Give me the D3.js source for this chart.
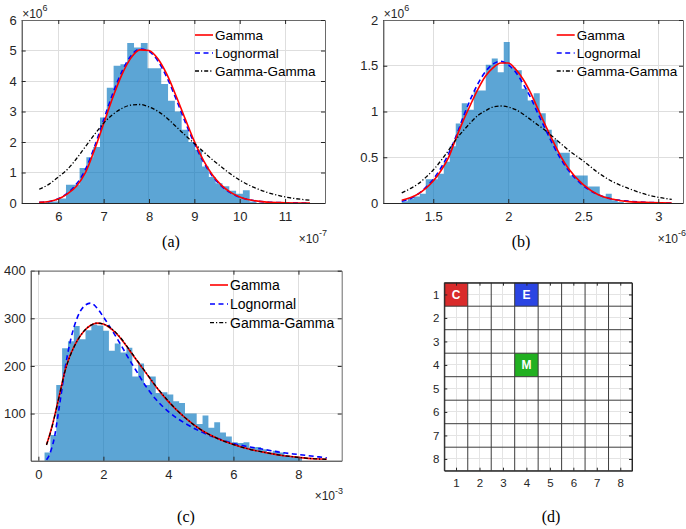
<!DOCTYPE html>
<html lang="en">
  <head>
    <meta charset="utf-8" />
    <script src="https://d3js.org/d3.v7.min.js"></script>
    <style>
      body { margin: 0; background: #fff; }
      svg text { font-family: "Liberation Sans", Arial, sans-serif; }
    </style>
  </head>
  <body>
    <svg width="686" height="529"></svg>
    <script>
      // ---------- (a) values in 1e-7 (x) and 1e6 (y) ----------
      const binStartA = 5.72, binWidthA = 0.15;
      const histA = [0.03, 0.05, 0.15, 0.6, 0.6, 1.15, 1.5, 1.84, 2.8, 3.78, 4.5, 4.55,
        5.25, 5.1, 5.25, 4.42, 4.42, 3.9, 3.35, 3.0, 2.4, 2.0, 1.75, 1.2, 0.85, 0.65,
        0.55, 0.4, 0.3, 0.42, 0.05];
      const fitXA = [5.58, 5.8, 6.0, 6.2, 6.4, 6.6, 6.8, 7.0, 7.2, 7.4, 7.6, 7.8, 8.0, 8.2,
        8.4, 8.6, 8.8, 9.0, 9.2, 9.4, 9.6, 9.8, 10.0, 10.3, 10.6, 11.0, 11.55];
      const gammaA = [0.02, 0.05, 0.13, 0.3, 0.55, 1.0, 1.75, 2.6, 3.45, 4.2, 4.75, 5.02, 5.0,
        4.72, 4.2, 3.5, 2.75, 2.02, 1.4, 0.92, 0.58, 0.35, 0.2, 0.08, 0.03, 0.01, 0.0];
      const lognA = [0.02, 0.05, 0.14, 0.32, 0.62, 1.1, 1.85, 2.72, 3.58, 4.3, 4.82, 5.05, 4.97,
        4.65, 4.1, 3.4, 2.65, 1.95, 1.35, 0.88, 0.55, 0.33, 0.19, 0.08, 0.03, 0.01, 0.0];
      const ggA = [0.45, 0.62, 0.85, 1.1, 1.45, 1.85, 2.25, 2.62, 2.9, 3.1, 3.21, 3.23, 3.15,
        3.0, 2.78, 2.5, 2.22, 1.95, 1.68, 1.42, 1.18, 0.95, 0.75, 0.52, 0.35, 0.2, 0.09];
      const xTicksA = [6, 7, 8, 9, 10, 11];
      const yTicksA = [0, 1, 2, 3, 4, 5, 6];

      // ---------- (b) values in 1e-6 (x) and 1e6 (y) ----------
      const binStartB = 1.29, binWidthB = 0.04;
      const histB = [0.02, 0.05, 0.07, 0.1, 0.26, 0.26, 0.32, 0.45, 0.62, 0.87, 1.09, 1.02,
        1.23, 1.23, 1.51, 1.58, 1.43, 1.76, 1.48, 1.45, 1.25, 1.12, 1.2, 0.98, 0.8, 0.69,
        0.55, 0.55, 0.3, 0.3, 0.3, 0.18, 0.18, 0.07, 0.1, 0.03, 0.01];
      const fitXB = [1.29, 1.35, 1.4, 1.45, 1.5, 1.55, 1.6, 1.65, 1.7, 1.75, 1.8, 1.85, 1.9,
        1.95, 2.0, 2.05, 2.1, 2.15, 2.2, 2.25, 2.3, 2.35, 2.4, 2.5, 2.6, 2.7, 2.8, 2.95, 3.09];
      const gammaB = [0.03, 0.06, 0.1, 0.16, 0.24, 0.35, 0.49, 0.7, 0.9, 1.08, 1.25, 1.39,
        1.48, 1.53, 1.53, 1.46, 1.35, 1.2, 1.02, 0.84, 0.67, 0.51, 0.38, 0.2, 0.09, 0.04,
        0.015, 0.005, 0.0];
      const lognB = [0.02, 0.05, 0.1, 0.17, 0.26, 0.38, 0.53, 0.72, 0.94, 1.14, 1.31, 1.44,
        1.52, 1.55, 1.51, 1.43, 1.3, 1.15, 0.97, 0.8, 0.63, 0.48, 0.36, 0.19, 0.09, 0.04,
        0.02, 0.005, 0.0];
      const ggB = [0.11, 0.16, 0.21, 0.28, 0.36, 0.46, 0.57, 0.69, 0.79, 0.88, 0.96, 1.01,
        1.05, 1.06, 1.05, 1.02, 0.97, 0.91, 0.85, 0.79, 0.72, 0.65, 0.58, 0.46, 0.33, 0.23,
        0.16, 0.08, 0.04];
      const xTicksB = [1.5, 2, 2.5, 3];
      const yTicksB = [0, 0.5, 1, 1.5, 2];

      // ---------- (c) values in 1e-3 (x) and counts (y) ----------
      const binStartC = 0.19, binWidthC = 0.18;
      const histC = [18, 55, 160, 237, 252, 284, 256, 275, 287, 285, 274, 232, 247, 228, 238,
        178, 205, 160, 178, 143, 145, 140, 126, 122, 100, 100, 78, 96, 70, 82, 60, 52, 40,
        38, 40, 28, 30, 25, 18, 22, 18, 12, 10, 8];
      const fitXC = [0.25, 0.3, 0.4, 0.5, 0.6, 0.7, 0.8, 0.9, 1.0, 1.2, 1.4, 1.6, 1.8, 2.0,
        2.2, 2.4, 2.6, 2.8, 3.0, 3.3, 3.6, 4.0, 4.5, 5.0, 5.5, 6.0, 6.5, 7.0, 7.5, 8.0, 8.5, 8.87];
      const gammaC = [35, 45, 68, 95, 125, 155, 185, 208, 226, 254, 273, 285, 290, 288, 280,
        268, 252, 233, 214, 186, 158, 125, 92, 66, 48, 35, 25, 18, 12, 8, 5, 4];
      const lognC = [3, 8, 25, 52, 95, 140, 186, 225, 257, 302, 325, 332, 322, 303, 282, 260,
        237, 213, 191, 158, 131, 104, 80, 62, 48, 37, 30, 24, 18, 14, 10, 7];
      const ggC = [34, 44, 67, 94, 124, 154, 184, 207, 225, 253, 273, 285, 290, 288, 281, 269,
        253, 234, 215, 187, 159, 126, 92, 66, 48, 35, 25, 18, 12, 8, 5, 4];
      const xTicksC = [0, 2, 4, 6, 8];
      const yTicksC = [100, 200, 300, 400];

      // ---------- (d) grid ----------
      const gridTicksD = [1, 2, 3, 4, 5, 6, 7, 8];
      const cellLetters = ["C", "E", "M"];
      const cellCols = [1, 4, 4];
      const cellRows = [1, 1, 4];

      const seriesNames = ["Gamma", "Lognormal", "Gamma-Gamma"];

      const svg = d3.select("svg");
      const axisColor = "#262626";
      const styles = {
        Gamma: { stroke: "#ff0000", width: 1.6, dash: null },
        Lognormal: { stroke: "#0000ff", width: 1.6, dash: "5,3.5" },
        "Gamma-Gamma": { stroke: "#000000", width: 1.3, dash: "4,2,1.2,2" },
      };

      function drawPanel(cfg) {
        const g = svg.append("g");
        const x = d3.scaleLinear().domain(cfg.xDomain).range([cfg.left, cfg.right]);
        const y = d3.scaleLinear().domain(cfg.yDomain).range([cfg.bottom, cfg.top]);

        // grid
        g.append("g").selectAll("line").data(cfg.xTicks).join("line")
          .attr("x1", d => x(d)).attr("x2", d => x(d))
          .attr("y1", cfg.top).attr("y2", cfg.bottom)
          .attr("stroke", "#dedede").attr("shape-rendering", "crispEdges");
        g.append("g").selectAll("line").data(cfg.yTicks).join("line")
          .attr("y1", d => y(d)).attr("y2", d => y(d))
          .attr("x1", cfg.left).attr("x2", cfg.right)
          .attr("stroke", "#dedede").attr("shape-rendering", "crispEdges");

        // histogram as one stepped area
        const pts = cfg.counts.map((c, i) => [cfg.binStart + i * cfg.binWidth, c]);
        pts.push([cfg.binStart + cfg.counts.length * cfg.binWidth, cfg.counts[cfg.counts.length - 1]]);
        const area = d3.area()
          .x(d => x(d[0])).y0(y(cfg.yDomain[0])).y1(d => y(d[1]))
          .curve(d3.curveStepAfter);
        g.append("path").datum(pts).attr("d", area)
          .attr("fill", "#0072BD").attr("fill-opacity", 0.64);

        // fitted curves
        cfg.order.forEach(k => {
          const s = cfg.series[k], st = styles[seriesNames[k]];
          const line = d3.line()
            .x((d, i) => x(cfg.curveX[i])).y(d => y(d))
            .curve(d3.curveMonotoneX);
          g.append("path").datum(s).attr("d", line)
            .attr("fill", "none").attr("stroke", st.stroke)
            .attr("stroke-width", st.width)
            .attr("stroke-dasharray", st.dash);
        });

        // axes (ticks point inward, box on)
        const styleAxis = a => {
          a.attr("font-size", 13).attr("font-family", "Liberation Sans, Arial, sans-serif");
          a.select(".domain").attr("stroke", axisColor);
          a.selectAll(".tick line").attr("stroke", axisColor);
          a.selectAll("text").attr("fill", axisColor);
        };
        g.append("g").attr("transform", `translate(0,${cfg.bottom})`)
          .call(d3.axisBottom(x).tickValues(cfg.xTicks).tickFormat(d => String(d))
            .tickSize(-4).tickSizeOuter(0).tickPadding(9))
          .call(styleAxis);
        g.append("g").attr("transform", `translate(${cfg.left},0)`)
          .call(d3.axisLeft(y).tickValues(cfg.yTicks).tickFormat(d => String(d))
            .tickSize(-4).tickSizeOuter(0).tickPadding(5))
          .call(styleAxis);
        g.append("g").attr("transform", `translate(0,${cfg.top})`)
          .call(d3.axisTop(x).tickValues(cfg.xTicks).tickFormat("")
            .tickSize(-4).tickSizeOuter(0))
          .call(styleAxis)
          .call(a => a.select(".domain").attr("stroke", "#6a6a6a"));
        g.append("g").attr("transform", `translate(${cfg.right},0)`)
          .call(d3.axisRight(y).tickValues(cfg.yTicks).tickFormat("")
            .tickSize(-4).tickSizeOuter(0))
          .call(styleAxis)
          .call(a => a.select(".domain").attr("stroke", "#6a6a6a"));

        // legend
        const lg = g.append("g");
        seriesNames.forEach((name, i) => {
          const st = styles[name], ly = cfg.legY[i];
          lg.append("line")
            .attr("x1", cfg.legX).attr("x2", cfg.legX + 18)
            .attr("y1", ly).attr("y2", ly)
            .attr("stroke", st.stroke).attr("stroke-width", st.width)
            .attr("stroke-dasharray", st.dash);
          lg.append("text").attr("x", cfg.legX + 20).attr("y", ly + 4.8)
            .attr("font-size", cfg.legFont).attr("fill", "#000").text(name);
        });

        // exponent labels
        if (cfg.yExp) {
          const t = g.append("text").attr("x", cfg.left + 0.5).attr("y", cfg.top - 2.5)
            .attr("font-size", 12).attr("fill", axisColor).text("×10");
          t.append("tspan").attr("dy", -6.5).attr("font-size", 9).text(cfg.yExp);
        }
        const tx = g.append("text").attr("x", cfg.xExpX).attr("y", cfg.bottom + 39.5)
          .attr("text-anchor", "end").attr("font-size", 12).attr("fill", axisColor)
          .text("×10");
        tx.append("tspan").attr("dy", -6.5).attr("font-size", 9).text(cfg.xExp);

        // caption
        g.append("text").attr("x", cfg.capX).attr("y", cfg.capY).attr("dy", "0.35em")
          .attr("text-anchor", "middle").attr("font-size", 16)
          .style("font-family", "Liberation Serif, Times New Roman, serif")
          .attr("fill", "#000").text(cfg.caption);
      }

      drawPanel({
        left: 21.7, right: 325, top: 20, bottom: 203,
        xDomain: [5.194, 11.88], yDomain: [0, 6],
        xTicks: xTicksA, yTicks: yTicksA,
        binStart: binStartA, binWidth: binWidthA, counts: histA,
        curveX: fitXA, series: [gammaA, lognA, ggA], order: [1, 0, 2],
        legX: 195, legY: [35, 53, 71], legFont: 13.5,
        yExp: "6", xExp: "-7", xExpX: 327,
        caption: "(a)", capX: 171, capY: 241,
      });

      drawPanel({
        left: 383.3, right: 683, top: 20, bottom: 203,
        xDomain: [1.167, 3.165], yDomain: [0, 2],
        xTicks: xTicksB, yTicks: yTicksB,
        binStart: binStartB, binWidth: binWidthB, counts: histB,
        curveX: fitXB, series: [gammaB, lognB, ggB], order: [1, 0, 2],
        legX: 556.7, legY: [35, 53, 71], legFont: 13.5,
        yExp: "6", xExp: "-6", xExpX: 686,
        caption: "(b)", capX: 521, capY: 241,
      });

      drawPanel({
        left: 30.7, right: 341.7, top: 270.7, bottom: 460.7,
        xDomain: [-0.236, 9.33], yDomain: [1, 400],
        xTicks: xTicksC, yTicks: yTicksC,
        binStart: binStartC, binWidth: binWidthC, counts: histC,
        curveX: fitXC, series: [gammaC, lognC, ggC], order: [1, 0, 2],
        legX: 210, legY: [285, 304, 322.7], legFont: 14,
        yExp: null, xExp: "-3", xExpX: 343,
        caption: "(c)", capX: 186, capY: 516,
      });

      // ---------- (d) ----------
      (function drawGrid() {
        const left = 444.3, right = 632, top = 282.7, bottom = 470.7;
        const g = svg.append("g");
        const x = d3.scaleLinear().domain([0.5, 8.5]).range([left, right]);
        const y = d3.scaleLinear().domain([0.5, 8.5]).range([top, bottom]);
        const cellFill = { C: "#d92b2b", E: "#2b45e3", M: "#22b021" };
        const bounds = gridTicksD.map(d => d - 0.5).concat([8.5]);

        g.append("g").selectAll("line").data(gridTicksD).join("line")
          .attr("x1", d => x(d)).attr("x2", d => x(d)).attr("y1", top).attr("y2", bottom)
          .attr("stroke", "#e4e4e4").attr("shape-rendering", "crispEdges");
        g.append("g").selectAll("line").data(gridTicksD).join("line")
          .attr("y1", d => y(d)).attr("y2", d => y(d)).attr("x1", left).attr("x2", right)
          .attr("stroke", "#e4e4e4").attr("shape-rendering", "crispEdges");

        g.append("g").selectAll("rect").data(cellLetters).join("rect")
          .attr("x", (d, i) => x(cellCols[i] - 0.5)).attr("y", (d, i) => y(cellRows[i] - 0.5))
          .attr("width", x(1.5) - x(0.5)).attr("height", y(1.5) - y(0.5))
          .attr("fill", d => cellFill[d]);
        g.append("g").selectAll("text").data(cellLetters).join("text")
          .attr("x", (d, i) => x(cellCols[i])).attr("y", (d, i) => y(cellRows[i]))
          .attr("dy", "0.36em").attr("text-anchor", "middle")
          .attr("font-size", 12).attr("font-weight", "bold").attr("fill", "#fff").text(d => d);

        g.append("g").selectAll("line").data(bounds).join("line")
          .attr("x1", d => x(d)).attr("x2", d => x(d)).attr("y1", top).attr("y2", bottom)
          .attr("stroke", "#3c3c3c").attr("stroke-width", 1);
        g.append("g").selectAll("line").data(bounds).join("line")
          .attr("y1", d => y(d)).attr("y2", d => y(d)).attr("x1", left).attr("x2", right)
          .attr("stroke", "#3c3c3c").attr("stroke-width", 1);

        const styleAxis = a => {
          a.attr("font-size", 11.5).attr("font-family", "Liberation Sans, Arial, sans-serif");
          a.select(".domain").attr("stroke", axisColor);
          a.selectAll(".tick line").attr("stroke", axisColor);
          a.selectAll("text").attr("fill", axisColor);
        };
        g.append("g").attr("transform", `translate(0,${bottom})`)
          .call(d3.axisBottom(x).tickValues(gridTicksD).tickSize(-3).tickSizeOuter(0).tickPadding(8))
          .call(styleAxis);
        g.append("g").attr("transform", `translate(${left},0)`)
          .call(d3.axisLeft(y).tickValues(gridTicksD).tickSize(-3).tickSizeOuter(0).tickPadding(5))
          .call(styleAxis);
        g.append("g").attr("transform", `translate(0,${top})`)
          .call(d3.axisTop(x).tickValues(gridTicksD).tickFormat("").tickSize(-3).tickSizeOuter(0))
          .call(styleAxis);
        g.append("g").attr("transform", `translate(${right},0)`)
          .call(d3.axisRight(y).tickValues(gridTicksD).tickFormat("").tickSize(-3).tickSizeOuter(0))
          .call(styleAxis);

        g.append("text").attr("x", 551).attr("y", 516).attr("dy", "0.35em")
          .attr("text-anchor", "middle").attr("font-size", 16)
          .style("font-family", "Liberation Serif, Times New Roman, serif")
          .attr("fill", "#000").text("(d)");
      })();
    </script>
  </body>
</html>
